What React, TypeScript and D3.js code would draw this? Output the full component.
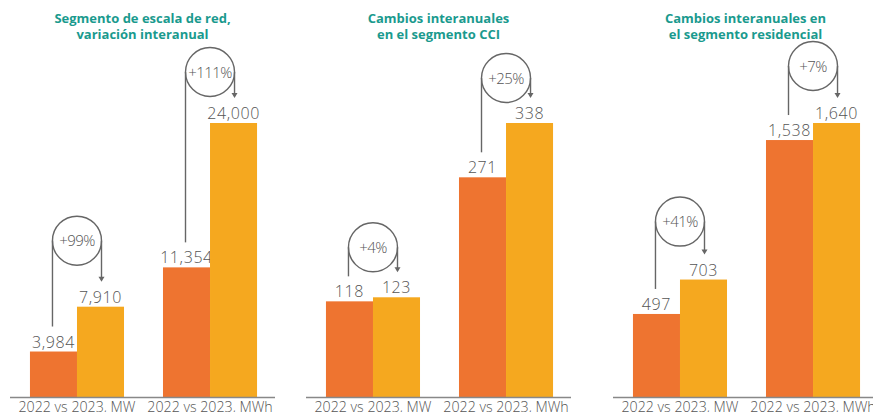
import React from "react";
import * as d3 from "d3";

const PANEL_TITLES: string[][] = [
  ["Segmento de escala de red,", "variación interanual"],
  ["Cambios interanuales", "en el segmento CCI"],
  ["Cambios interanuales en", "el segmento residencial"],
];
const CATEGORIES = ["2022 vs 2023, MW", "2022 vs 2023, MWh"];
const YEARS = ["2022", "2023"];
const VALUES_2022 = [
  [3984, 11354],
  [118, 271],
  [497, 1538],
];
const VALUES_2023 = [
  [7910, 24000],
  [123, 338],
  [703, 1640],
];
const CHANGE_LABELS = [
  ["+99%", "+111%"],
  ["+4%", "+25%"],
  ["+41%", "+7%"],
];

// layout constants
const W = 873;
const H = 412;
const PANEL_X = [10, 306, 613];
const PANEL_W = 265;
const BASE_Y = 397;
const TOP_Y = 123;
const CIRCLE_LIFT = [
  [66, 51],
  [50, 45],
  [58, 57],
];
const COLORS = ["#EE7430", "#F5A81F"];
const TEAL = "#1A9A8E";
const GRAY = "#666666";
const TEXT_GRAY = "#555555";
const FONT = "'Open Sans', Lato, sans-serif";

const fmt = d3.format(",");

function Panel({ idx }: { idx: number }) {
  const x0 = PANEL_X[idx];
  const values = [VALUES_2022[idx], VALUES_2023[idx]];
  const maxV = d3.max(values.flat()) as number;
  const y = d3.scaleLinear().domain([0, maxV]).range([BASE_Y, TOP_Y]);
  const gx = d3
    .scaleBand<string>()
    .domain(CATEGORIES)
    .range([0, PANEL_W + 2])
    .paddingInner(0.293)
    .paddingOuter(0.15);
  const sx = d3.scaleBand<string>().domain(YEARS).range([0, gx.bandwidth()]);
  const bw = sx.bandwidth();
  const cx = x0 + PANEL_W / 2;

  return (
    <g>
      <text
        textAnchor="middle"
        fill={TEAL}
        fontFamily={FONT}
        fontWeight={700}
        fontSize={13}
      >
        <tspan x={cx} y={23}>{PANEL_TITLES[idx][0]}</tspan>
        <tspan x={cx} y={38.5}>{PANEL_TITLES[idx][1]}</tspan>
      </text>
      {CATEGORIES.map((cat, ci) => {
        const gX = x0 + (gx(cat) as number);
        const tops = YEARS.map((_, yi) => y(values[yi][ci]));
        const ccx = gX + bw;
        const r = bw / 2 + 1;
        const ccy = tops[1] - CIRCLE_LIFT[idx][ci];
        const leftEnd = tops[0] - 25;
        const rightEnd = tops[1] - 25;
        return (
          <g key={cat}>
            {YEARS.map((yr, yi) => {
              const bx = gX + (sx(yr) as number);
              return (
                <g key={yr}>
                  <rect
                    x={bx}
                    y={tops[yi]}
                    width={bw}
                    height={BASE_Y - tops[yi]}
                    fill={COLORS[yi]}
                  />
                  <text
                    x={bx + bw / 2}
                    y={tops[yi] - 4}
                    textAnchor="middle"
                    fill={TEXT_GRAY}
                    fontFamily={FONT}
                    fontWeight={300}
                    fontSize={16}
                    letterSpacing={0.6}
                  >
                    {fmt(values[yi][ci])}
                  </text>
                </g>
              );
            })}
            <circle cx={ccx} cy={ccy} r={r} fill="none" stroke={GRAY} strokeWidth={1.4} />
            <line x1={ccx - r} x2={ccx - r} y1={ccy} y2={leftEnd} stroke={GRAY} strokeWidth={1.4} />
            <line x1={ccx + r} x2={ccx + r} y1={ccy} y2={rightEnd - 4} stroke={GRAY} strokeWidth={1.4} />
            <path
              d={`M${ccx + r - 3},${rightEnd - 5} L${ccx + r + 3},${rightEnd - 5} L${ccx + r},${rightEnd} Z`}
              fill={GRAY}
            />
            <text
              x={ccx}
              y={ccy + 5.5}
              textAnchor="middle"
              fill={TEXT_GRAY}
              fontFamily={FONT}
              fontWeight={300}
              fontSize={15}
              letterSpacing={-0.6}
            >
              {CHANGE_LABELS[idx][ci]}
            </text>
            <text
              x={gX + gx.bandwidth() / 2}
              y={412}
              textAnchor="middle"
              fill={TEXT_GRAY}
              fontFamily={FONT}
              fontWeight={300}
              fontSize={14.2}
            >
              {cat}
            </text>
          </g>
        );
      })}
      <line
        x1={x0}
        x2={x0 + PANEL_W}
        y1={BASE_Y + 0.5}
        y2={BASE_Y + 0.5}
        stroke="#888"
        strokeWidth={1.5}
      />
    </g>
  );
}

export default function App() {
  return (
    <svg
      width={W}
      height={H}
      viewBox={`0 0 ${W} ${H}`}
      style={{ position: "absolute", left: 0, top: 0, background: "#fff" }}
    >
      {PANEL_TITLES.map((_, i) => (
        <Panel key={i} idx={i} />
      ))}
    </svg>
  );
}
